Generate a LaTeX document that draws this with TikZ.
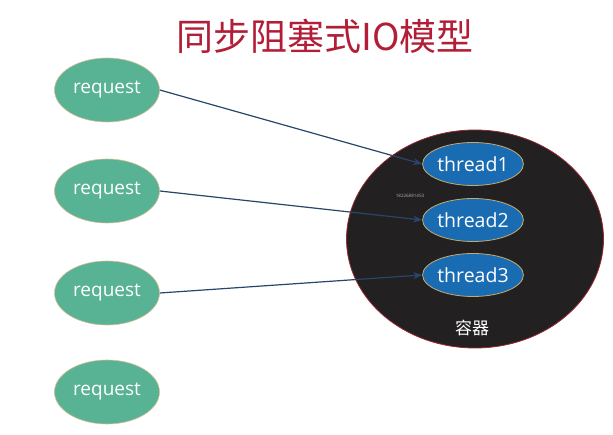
\documentclass[tikz,border=0pt]{standalone}
\usepackage{fontspec}
\setmainfont{Open Sans}
\newfontfamily\cjk{Noto Sans CJK SC}
\usetikzlibrary{shapes.geometric,arrows.meta}
\definecolor{titlered}{RGB}{178,30,55}
\definecolor{reqfill}{RGB}{88,178,148}
\definecolor{reqborder}{RGB}{215,190,150}
\definecolor{thfill}{RGB}{26,108,178}
\definecolor{thborder}{RGB}{200,170,110}
\definecolor{boxfill}{RGB}{34,32,33}
\definecolor{boxborder}{RGB}{150,40,50}
\definecolor{arrowcol}{RGB}{40,70,105}
\tikzset{
  req/.style={ellipse, fill=reqfill, draw=reqborder, line width=0.6pt, minimum width=105pt, minimum height=64pt, inner sep=0pt, text=white, font=\fontsize{19}{21}\selectfont},
  thr/.style={ellipse, fill=thfill, draw=thborder, line width=0.8pt, minimum width=100pt, minimum height=43pt, inner sep=0pt, text=white, font=\fontsize{19.5}{21}\selectfont},
  conn/.style={draw=arrowcol, line width=1.2pt, -{Stealth[length=9pt,width=7pt]}}
}
\begin{document}
\begin{tikzpicture}[x=1pt,y=-1pt]
\useasboundingbox (0,0) rectangle (613,435);
\fill[white] (0,0) rectangle (613,435);
\node[text=titlered, font=\cjk\fontsize{37}{40}\selectfont] (title) at (325,36) {同步阻塞式IO模型};
\node[ellipse, fill=boxfill, draw=boxborder, line width=0.8pt, minimum width=257pt, minimum height=218pt, inner sep=0pt] (box) at (475,239) {};
\node[text=white, font=\cjk\fontsize{17}{19}\selectfont] (boxlabel) at (472,328) {容器};
\node[text=gray!60, font=\fontsize{4.5}{5}\selectfont] (wm) at (410,196) {18226881453};
\node[req] (r1) at (107,90) {request};
\node[req] (r2) at (107,191) {request};
\node[req] (r3) at (107,293) {request};
\node[req] (r4) at (107,392) {request};
\node[thr] (t1) at (473,164) {thread1};
\node[thr] (t2) at (473,220) {thread2};
\node[thr] (t3) at (473,275) {thread3};
\draw[conn] (r1.east) -- (t1.west);
\draw[conn] (r2.east) -- (t2.west);
\draw[conn] (r3.east) -- (t3.west);
\end{tikzpicture}
\end{document}
